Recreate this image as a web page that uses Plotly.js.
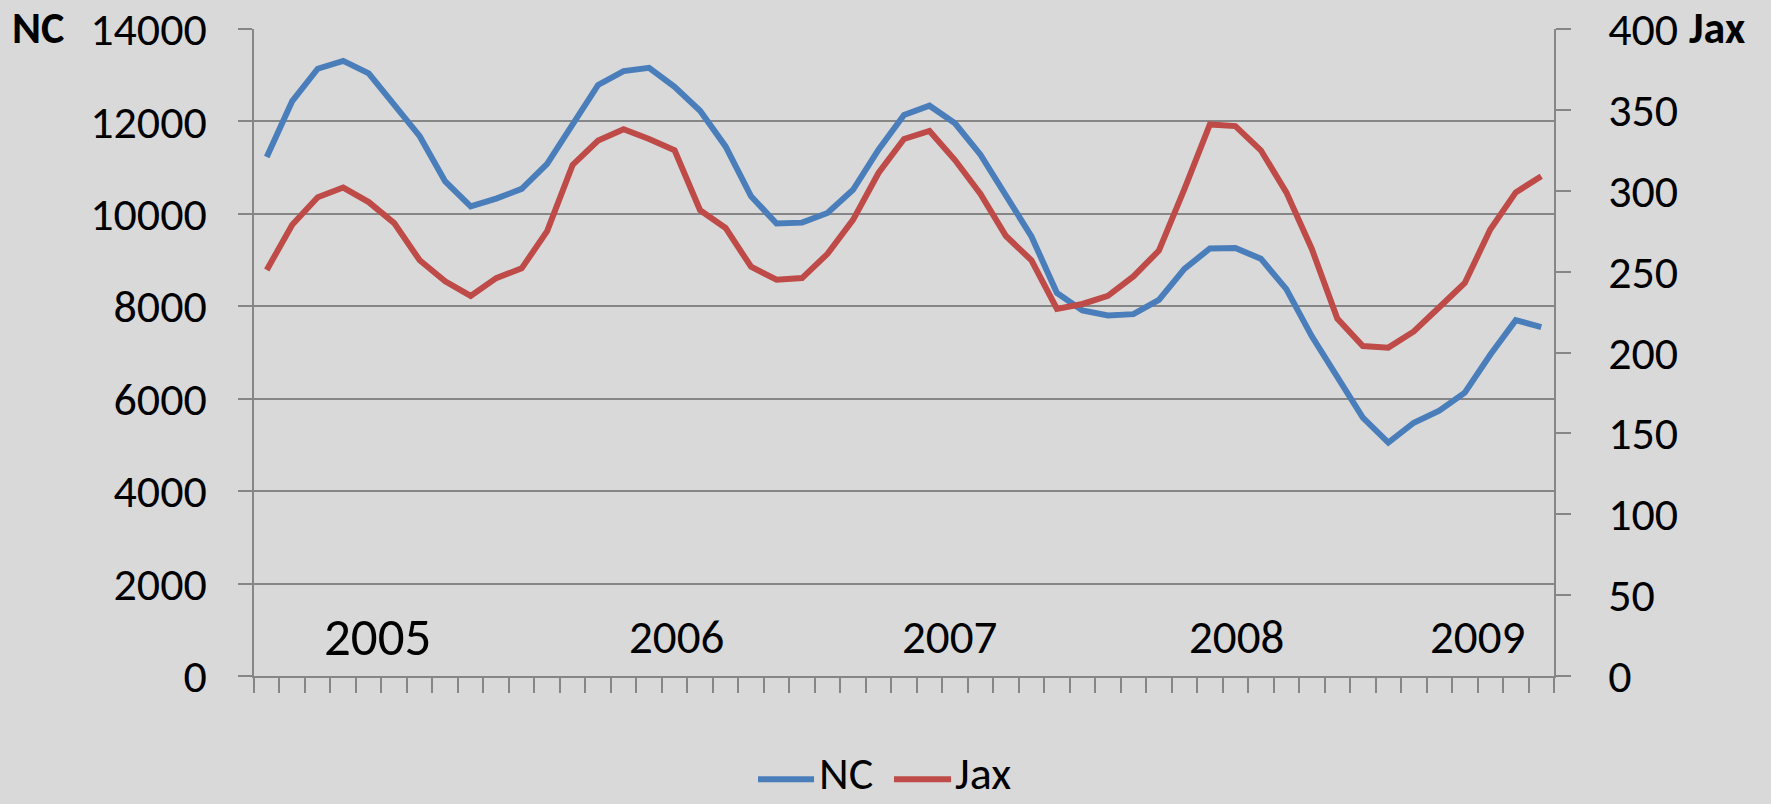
<!DOCTYPE html>
<html>
<head>
<meta charset="utf-8">
<script src="https://cdn.plot.ly/plotly-3.0.1.min.js"></script>
<style>
  html, body { margin: 0; padding: 0; background: #D9D9D9; }
  #chart { width: 1771px; height: 804px; }
</style>
</head>
<body>
<div id="chart"></div>
<script>
// ---- data ----
const ncValues = [
  11230, 12440, 13140, 13310, 13040, 12370, 11680, 10700, 10160, 10330,
  10540, 11080, 11950, 12790, 13090, 13160, 12750, 12230, 11460, 10380,
  9790, 9810, 10020, 10520, 11390, 12140, 12340, 11960, 11280, 10380,
  9510, 8290, 7910, 7800, 7830, 8140, 8810, 9250, 9260, 9030,
  8370, 7350, 6450, 5590, 5050, 5480, 5740, 6130, 6950, 7700,
  7550
];
const jaxValues = [
  251, 279, 296, 302, 293, 280, 257, 244, 235, 246,
  252, 275, 316, 331, 338, 332, 325, 288, 277, 253,
  245, 246, 261, 282, 311, 332, 337, 319, 298, 272,
  257, 227, 230, 235, 247, 263, 301, 341, 340, 325,
  299, 264, 221, 204, 203, 213, 228, 243, 276, 299,
  309
];
const seriesNames = ['NC', 'Jax'];
const yearLabels = ['2005', '2006', '2007', '2008', '2009'];
const leftTickValues = [0, 2000, 4000, 6000, 8000, 10000, 12000, 14000];
const rightTickValues = [0, 50, 100, 150, 200, 250, 300, 350, 400];

// ---- layout / style constants ----
const FONT = "Carlito, Calibri, 'Open Sans', sans-serif";
const GRID = '#868686';
const COLORS = ['#4A7EBB', '#BE4B48'];
const LINE_W = 6;
const n = ncValues.length;
const xs = ncValues.map((_, i) => i + 0.5);
const yearX = [4.83, 16.59, 27.3, 38.56, 48.0];
const yearSize = [53, 47, 47, 47, 47];

const traces = [
  { x: xs, y: ncValues, name: seriesNames[0], type: 'scatter', mode: 'lines',
    line: { color: COLORS[0], width: LINE_W }, yaxis: 'y', hoverinfo: 'skip' },
  { x: xs, y: jaxValues, name: seriesNames[1], type: 'scatter', mode: 'lines',
    line: { color: COLORS[1], width: LINE_W }, yaxis: 'y2', hoverinfo: 'skip' }
];

const annotations = yearLabels.map((t, k) => ({
  text: t, x: yearX[k], y: 845, xref: 'x', yref: 'y',
  xanchor: 'center', yanchor: 'middle', showarrow: false,
  font: { family: FONT, size: yearSize[k], color: '#000' }
}));
// axis titles (horizontal, at the top of each axis)
annotations.push({
  text: '<b>' + seriesNames[0] + '</b>', xref: 'paper', yref: 'paper', x: -0.166, y: 1.0015,
  xanchor: 'center', yanchor: 'middle', showarrow: false,
  font: { family: FONT, size: 44, color: '#000' }
});
annotations.push({
  text: '<b>' + seriesNames[1] + '</b>', xref: 'paper', yref: 'paper', x: 1.1254, y: 1.0015,
  xanchor: 'center', yanchor: 'middle', showarrow: false,
  font: { family: FONT, size: 44, color: '#000' }
});

// legend (drawn in the bottom margin)
const legendLineX = [[0.3877, 0.4308], [0.4923, 0.5362]];
const legendTextX = [0.4330, 0.5377];
const legendY = -0.1596;
const shapes = [];
seriesNames.forEach((name, k) => {
  shapes.push({
    type: 'line', xref: 'paper', yref: 'paper',
    x0: legendLineX[k][0], x1: legendLineX[k][1], y0: legendY, y1: legendY,
    line: { color: COLORS[k], width: LINE_W }
  });
  annotations.push({
    text: name, xref: 'paper', yref: 'paper', x: legendTextX[k], y: legendY + 0.01,
    xanchor: 'left', yanchor: 'middle', showarrow: false,
    font: { family: FONT, size: 46, color: '#000' }
  });
});

const layout = {
  width: 1771, height: 804,
  paper_bgcolor: '#D9D9D9', plot_bgcolor: '#D9D9D9',
  margin: { l: 254, r: 217, t: 29, b: 128, pad: 0 },
  font: { family: FONT, color: '#000' },
  showlegend: false,
  xaxis: {
    range: [0, n], tickmode: 'linear', tick0: 0, dtick: 1,
    ticks: 'outside', ticklen: 15, tickwidth: 2, tickcolor: GRID,
    showticklabels: false, showgrid: false, zeroline: false,
    showline: true, linecolor: GRID, linewidth: 2, fixedrange: true
  },
  yaxis: {
    range: [0, 14000], tickmode: 'array', tickvals: leftTickValues,
    ticktext: leftTickValues.map(String),
    ticks: 'outside', ticklen: 14, tickwidth: 2, tickcolor: GRID,
    ticklabelstandoff: 22,
    showgrid: true, gridcolor: GRID, gridwidth: 2, zeroline: false,
    showline: true, linecolor: GRID, linewidth: 2,
    tickfont: { family: FONT, size: 46, color: '#000' }, fixedrange: true
  },
  yaxis2: {
    range: [0, 400], overlaying: 'y', side: 'right', tickmode: 'array',
    tickvals: rightTickValues, ticktext: rightTickValues.map(String),
    ticks: 'outside', ticklen: 15, tickwidth: 2, tickcolor: GRID,
    ticklabelstandoff: 28,
    showgrid: false, zeroline: false,
    showline: true, linecolor: GRID, linewidth: 2,
    tickfont: { family: FONT, size: 46, color: '#000' }, fixedrange: true
  },
  shapes: shapes,
  annotations: annotations
};

Plotly.newPlot('chart', traces, layout, { displayModeBar: false, staticPlot: true });
</script>
</body>
</html>
